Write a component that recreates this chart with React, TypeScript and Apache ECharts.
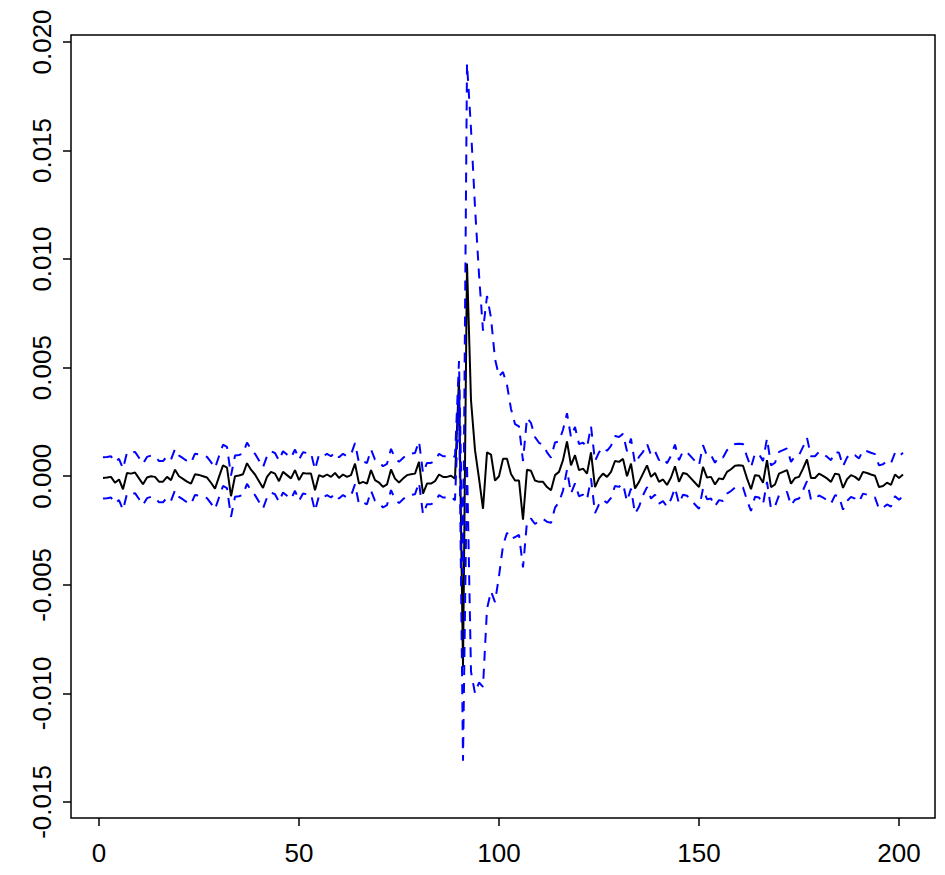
import React, { useEffect, useRef } from "react";
import * as echarts from "echarts";

// Lag index (x values)
const lags: number[] = Array.from({ length: 201 }, (_, k) => k + 1);

// Point estimate (solid black line)
const estimate: number[] = [
  -0.00008, -0.00006, -0.00003, -0.0003, -0.00015, -0.0006, 0.00015, 0.00012, 0.00017, -0.0001,
  -0.00037, -0.00006, 0.0, -0.00003, -0.00025, -0.00025, -0.00003, -0.00018, 0.0003, 0.0,
  -0.00012, -0.00025, -0.00034, 0.00009, 0.00006, 0.0, -0.00006, -0.0003, -0.00057, -0.00003,
  0.0005, 0.0004, -0.00092, 0.0, 0.00003, 0.00009, 0.0006, 0.0003, 0.00008, -0.00023,
  -0.00054, -0.00003, 0.0002, 0.00012, -0.00023, 0.0002, 0.00005, -0.0001, 0.00028, -0.00018,
  0.00015, 0.00012, 0.00012, -0.00065, 0.00005, -0.00003, 0.00008, -0.00003, 0.00015, -0.00008,
  0.00008, -0.00003, 0.00005, 0.00058, -0.00034, -0.00026, -0.00034, 0.00028, -0.00018, -0.00029,
  -0.00049, -0.00038, 0.00031, -0.00011, -0.00029, -0.00011, 0.00005, 0.00009, 0.00012, 0.00066,
  -0.0008, -0.00034, -0.00034, -0.00023, 0.00008, -0.00003, -0.00003, 0.00002, -0.00011, 0.0045,
  -0.0088, 0.0098, 0.0035, 0.0012, -0.0001, -0.0015, 0.0011, 0.001, -0.0002, 0.0,
  0.0008, 0.0008, 0.0001, -0.0002, -0.0002, -0.002, 0.0003, 0.00025, -0.0002, -0.00026,
  -0.00026, -0.0005, -0.00065, 0.00005, 0.0002, 0.00074, 0.0016, 0.0005, 0.00097, 0.00028,
  0.00035, 0.00012, 0.0011, -0.0005, -0.0001, 0.00012, -0.00003, 0.0002, 0.0007, 0.00066,
  0.0008, 0.0, 0.00058, -0.00057, -0.00026, 0.00012, 0.0005, -0.00003, 0.00015, -0.00026,
  -0.00015, -0.0004, -0.00006, 0.00046, -0.00026, 0.00015, 0.0001, -0.0001, -0.0003, -0.0005,
  0.00043, -0.00006, -0.00003, -0.00038, -0.0001, -0.00014, 0.0002, 0.00032, 0.00048, 0.0005,
  0.00048, -0.0001, -0.0006, 0.00005, 0.00002, -0.0003, 0.00074, -0.0005, -0.00038, 0.00012,
  0.0002, 0.00028, -0.00034, -0.00008, -0.00003, 0.00035, 0.00077, -0.00008, -0.00008, 0.00012,
  0.00002, -0.0001, -0.00026, 0.00012, 0.00008, -0.00054, -0.00014, 0.00005, -0.00003, -0.00018,
  0.0002, 0.00015, 0.00008, 0.00002, -0.0005, -0.00045, -0.0003, -0.0004, 0.00008, -0.00008,
  0.00008,
];

// Upper band (blue dashed)
const upper: number[] = [
  0.00087, 0.00089, 0.00092, 0.00065, 0.0008, 0.00035, 0.0011, 0.00107, 0.00112, 0.00085,
  0.00058, 0.00089, 0.00095, 0.00092, 0.0007, 0.0007, 0.00092, 0.00077, 0.00125, 0.00095,
  0.00083, 0.0007, 0.00061, 0.00104, 0.00101, 0.00095, 0.00089, 0.00065, 0.00038, 0.00092,
  0.00145, 0.00135, 0.00003, 0.00095, 0.00098, 0.00104, 0.00155, 0.00125, 0.00103, 0.00072,
  0.00041, 0.00092, 0.00115, 0.00107, 0.00072, 0.00115, 0.001, 0.00085, 0.00123, 0.00077,
  0.0011, 0.00107, 0.00107, 0.0003, 0.001, 0.00092, 0.00103, 0.00092, 0.0011, 0.00087,
  0.00103, 0.00092, 0.001, 0.00153, 0.00061, 0.00069, 0.00061, 0.00123, 0.00077, 0.00066,
  0.00046, 0.00057, 0.00126, 0.00084, 0.00066, 0.00084, 0.001, 0.00104, 0.00107, 0.00161,
  0.00015, 0.00061, 0.00061, 0.00072, 0.00103, 0.00092, 0.00092, 0.00097, 0.00089, 0.0053,
  -0.0045, 0.019, 0.016, 0.0124, 0.0093, 0.0067, 0.0083, 0.0073, 0.0054, 0.0046,
  0.0048, 0.0042, 0.0031, 0.0024, 0.0023, 0.0007, 0.0027, 0.00245, 0.0018, 0.00154,
  0.00144, 0.0011, 0.00085, 0.00155, 0.0016, 0.00214, 0.0029, 0.0018, 0.00227, 0.00148,
  0.00155, 0.00132, 0.0023, 0.0007, 0.0011, 0.00132, 0.00117, 0.0014, 0.00185, 0.00181,
  0.00195, 0.00115, 0.00173, 0.00058, 0.00089, 0.00112, 0.0015, 0.00097, 0.00115, 0.00074,
  0.00085, 0.0006, 0.00094, 0.00146, 0.00074, 0.00115, 0.0011, 0.0009, 0.0007, 0.0005,
  0.00143, 0.00094, 0.00097, 0.00062, 0.0009, 0.00086, 0.0012, 0.00132, 0.00148, 0.0015,
  0.00148, 0.0009, 0.0004, 0.00105, 0.00102, 0.0007, 0.00174, 0.0005, 0.00062, 0.00112,
  0.0012, 0.00128, 0.00066, 0.00092, 0.00097, 0.00135, 0.00177, 0.00092, 0.00092, 0.00112,
  0.00102, 0.0009, 0.00074, 0.00112, 0.00108, 0.00046, 0.00086, 0.00105, 0.00097, 0.00082,
  0.0012, 0.00115, 0.00108, 0.00102, 0.0005, 0.00055, 0.0007, 0.0006, 0.00108, 0.00092,
  0.00108,
];

// Lower band (blue dashed)
const lower: number[] = [
  -0.00103, -0.00101, -0.00098, -0.00125, -0.0011, -0.00155, -0.0008, -0.00083, -0.00078, -0.00105,
  -0.00132, -0.00101, -0.00095, -0.00098, -0.0012, -0.0012, -0.00098, -0.00113, -0.00065, -0.00095,
  -0.00107, -0.0012, -0.00129, -0.00086, -0.00089, -0.00095, -0.00101, -0.00125, -0.00152, -0.00098,
  -0.00045, -0.00055, -0.00187, -0.00095, -0.00092, -0.00086, -0.00035, -0.00065, -0.00087, -0.00118,
  -0.00149, -0.00098, -0.00075, -0.00083, -0.00118, -0.00075, -0.0009, -0.00105, -0.00067, -0.00113,
  -0.0008, -0.00083, -0.00083, -0.0016, -0.0009, -0.00098, -0.00087, -0.00098, -0.0008, -0.00103,
  -0.00087, -0.00098, -0.0009, -0.00037, -0.00129, -0.00121, -0.00129, -0.00067, -0.00113, -0.00124,
  -0.00144, -0.00133, -0.00064, -0.00106, -0.00124, -0.00106, -0.0009, -0.00086, -0.00083, -0.00029,
  -0.00175, -0.00129, -0.00129, -0.00118, -0.00087, -0.00098, -0.00098, -0.00093, -0.00111, 0.0037,
  -0.0131, 0.0006, -0.009, -0.01, -0.0095, -0.0097, -0.0061, -0.0053, -0.0058, -0.0046,
  -0.0032, -0.0026, -0.0029, -0.0028, -0.0027, -0.0042, -0.0021, -0.00195, -0.0022, -0.00206,
  -0.00196, -0.0021, -0.00215, -0.00145, -0.0012, -0.00066, 0.0003, -0.0008, -0.00033, -0.00092,
  -0.00085, -0.00108, -0.0001, -0.0017, -0.0013, -0.00108, -0.00123, -0.001, -0.00045, -0.00049,
  -0.00035, -0.00115, -0.00057, -0.00172, -0.00141, -0.00088, -0.0005, -0.00103, -0.00085, -0.00126,
  -0.00115, -0.0014, -0.00106, -0.00054, -0.00126, -0.00085, -0.0009, -0.0011, -0.0013, -0.0015,
  -0.00057, -0.00106, -0.00103, -0.00138, -0.0011, -0.00114, -0.0008, -0.00068, -0.00052, -0.0005,
  -0.00052, -0.0011, -0.0016, -0.00095, -0.00098, -0.0013, -0.00026, -0.0015, -0.00138, -0.00088,
  -0.0008, -0.00072, -0.00134, -0.00108, -0.00103, -0.00065, -0.00023, -0.00108, -0.00108, -0.00088,
  -0.00098, -0.0011, -0.00126, -0.00088, -0.00092, -0.00154, -0.00114, -0.00095, -0.00103, -0.00118,
  -0.0008, -0.00085, -0.00092, -0.00098, -0.0015, -0.00145, -0.0013, -0.0014, -0.00092, -0.00108,
  -0.00092,
];

const xTicks: number[] = [0, 50, 100, 150, 200];
const yTicks: number[] = [-0.015, -0.01, -0.005, 0, 0.005, 0.01, 0.015, 0.02];

const FONT = "'Liberation Sans', Arial, Helvetica, sans-serif";

export default function App() {
  const ref = useRef<HTMLDivElement>(null);

  useEffect(() => {
    if (!ref.current) return;
    const chart = echarts.init(ref.current, null, { renderer: "svg" });
    const toPairs = (arr: number[]) => lags.map((x, i) => [x, arr[i]]);
    chart.setOption({
      animation: false,
      backgroundColor: "#ffffff",
      grid: {
        left: 71,
        top: 35,
        width: 864,
        height: 783,
        show: true,
        borderColor: "#000000",
        borderWidth: 1.5,
        backgroundColor: "transparent",
        containLabel: false,
        outerBoundsMode: "none",
      },
      xAxis: {
        type: "value",
        min: -7,
        max: 209,
        axisLine: { show: false, onZero: false },
        splitLine: { show: false },
        axisTick: {
          show: true,
          customValues: xTicks,
          length: 8,
          lineStyle: { color: "#000000", width: 1.5 },
        },
        axisLabel: {
          customValues: xTicks,
          color: "#000000",
          fontSize: 26,
          fontFamily: FONT,
          margin: 22,
        },
      },
      yAxis: {
        type: "value",
        min: -0.01574,
        max: 0.02032,
        axisLine: { show: false, onZero: false },
        splitLine: { show: false },
        axisTick: {
          show: true,
          customValues: yTicks,
          length: 8,
          lineStyle: { color: "#000000", width: 1.5 },
        },
        axisLabel: {
          customValues: yTicks,
          rotate: 90,
          color: "#000000",
          fontSize: 26,
          fontFamily: FONT,
          margin: 16,
          formatter: (v: number) => v.toFixed(3),
        },
      },
      series: [
        {
          name: "estimate",
          type: "line",
          data: toPairs(estimate),
          symbol: "none",
          lineStyle: { color: "#000000", width: 2 },
        },
        {
          name: "upper",
          type: "line",
          data: toPairs(upper),
          symbol: "none",
          lineStyle: { color: "#0000ff", width: 2, type: [10, 8] },
        },
        {
          name: "lower",
          type: "line",
          data: toPairs(lower),
          symbol: "none",
          lineStyle: { color: "#0000ff", width: 2, type: [10, 8] },
        },
      ],
    });
    return () => chart.dispose();
  }, []);

  return (
    <div
      ref={ref}
      style={{ position: "fixed", left: 0, top: 0, width: 945, height: 875 }}
    />
  );
}
